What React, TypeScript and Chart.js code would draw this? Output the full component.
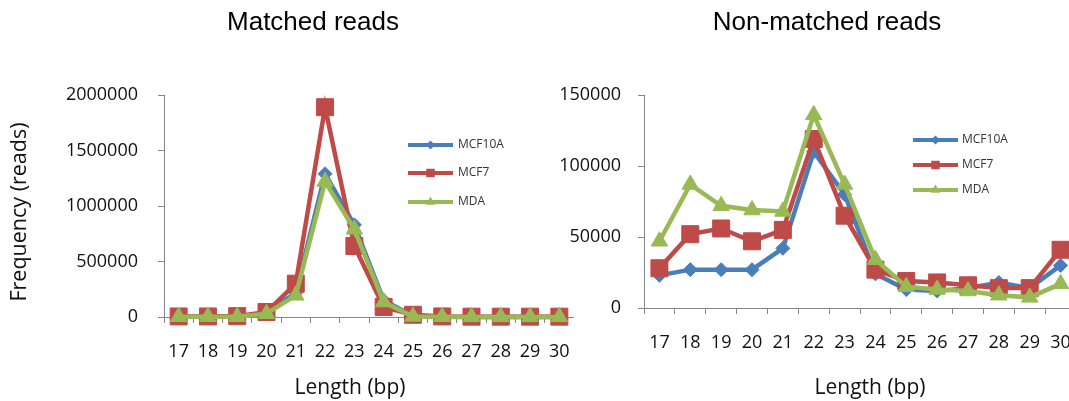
import React, { useEffect, useRef } from 'react';
import { Chart, registerables } from 'chart.js';

Chart.register(...registerables);

// ---- data ----
const lengths = ['17', '18', '19', '20', '21', '22', '23', '24', '25', '26', '27', '28', '29', '30'];
const seriesNames = ['MCF10A', 'MCF7', 'MDA'];

const matchedMCF10A = [2000, 2000, 3000, 35000, 220000, 1290000, 830000, 150000, 10000, 2000, 1000, 1000, 1000, 1000];
const matchedMCF7 = [5000, 5000, 8000, 45000, 300000, 1890000, 640000, 90000, 20000, 5000, 3000, 3000, 3000, 3000];
const matchedMDA = [2000, 2000, 3000, 30000, 195000, 1220000, 790000, 135000, 5000, 2000, 1000, 1000, 1000, 1000];

const nonMatchedMCF10A = [23000, 27000, 27000, 27000, 42000, 110000, 80000, 24000, 13000, 12000, 14000, 18000, 14000, 30000];
const nonMatchedMCF7 = [28000, 52000, 56000, 47000, 55000, 119000, 65000, 27000, 19000, 18000, 16000, 14000, 14000, 41000];
const nonMatchedMDA = [47000, 87000, 72000, 69000, 68000, 136000, 87000, 34000, 15000, 13000, 12000, 9000, 7500, 17000];

const matchedYTicks = [0, 500000, 1000000, 1500000, 2000000];
const nonMatchedYTicks = [0, 50000, 100000, 150000];

// ---- styles ----
const COLORS = ['#4A7EBB', '#BE4B48', '#98B954'];
const POINT_STYLES = ['rectRot', 'rect', 'triangle'];
const POINT_RADII = [7, 12, 9.5];
const LEGEND_RADII = [4.5, 6, 5.5];
const AXIS_COLOR = '#868686';
const TEXT_COLOR = '#111111';
const TICK_FONT = { family: 'Open Sans', size: 18 };
const TITLE_FONT = '26px "Liberation Sans"';
const AXIS_TITLE_FONT = '21px "Open Sans"';

function shapePath(ctx: CanvasRenderingContext2D, style: string, x: number, y: number, r: number) {
  ctx.beginPath();
  if (style === 'rect') {
    const s = Math.SQRT1_2 * r;
    ctx.rect(x - s, y - s, 2 * s, 2 * s);
  } else if (style === 'rectRot') {
    ctx.moveTo(x, y - r);
    ctx.lineTo(x + r, y);
    ctx.lineTo(x, y + r);
    ctx.lineTo(x - r, y);
    ctx.closePath();
  } else {
    for (let k = 0; k < 3; k++) {
      const a = (k * 2 * Math.PI) / 3;
      const px = x + Math.sin(a) * r;
      const py = y - Math.cos(a) * r;
      if (k === 0) ctx.moveTo(px, py);
      else ctx.lineTo(px, py);
    }
    ctx.closePath();
  }
}

const lineLegendPlugin = {
  id: 'lineLegend',
  afterDraw(chart: any, _args: any, opts: any) {
    if (!opts || !opts.ys) return;
    const ctx: CanvasRenderingContext2D = chart.ctx;
    chart.data.datasets.forEach((ds: any, i: number) => {
      const y = opts.ys[i];
      ctx.save();
      ctx.strokeStyle = ds.borderColor;
      ctx.lineWidth = 4;
      ctx.beginPath();
      ctx.moveTo(opts.x1, y);
      ctx.lineTo(opts.x2, y);
      ctx.stroke();
      ctx.fillStyle = ds.borderColor;
      shapePath(ctx, POINT_STYLES[i], (opts.x1 + opts.x2) / 2, y, LEGEND_RADII[i]);
      ctx.fill();
      ctx.font = '12px "Open Sans"';
      ctx.fillStyle = '#333333';
      ctx.textAlign = 'left';
      ctx.textBaseline = 'middle';
      ctx.fillText(ds.label, opts.textX, y);
      ctx.restore();
    });
  },
};

const extraTextPlugin = {
  id: 'extraText',
  afterDraw(chart: any, _args: any, opts: any) {
    if (!opts || !opts.items) return;
    const ctx: CanvasRenderingContext2D = chart.ctx;
    opts.items.forEach((it: any) => {
      ctx.save();
      ctx.translate(it.x, it.y);
      ctx.rotate(it.rotation || 0);
      ctx.font = it.font;
      ctx.fillStyle = it.color || TEXT_COLOR;
      ctx.textAlign = 'center';
      ctx.textBaseline = 'middle';
      ctx.fillText(it.text, 0, 0);
      ctx.restore();
    });
  },
};

function makeDatasets(values: number[][]) {
  return values.map((v, i) => ({
    label: seriesNames[i],
    data: v,
    borderColor: COLORS[i],
    backgroundColor: COLORS[i],
    pointBackgroundColor: COLORS[i],
    pointBorderColor: COLORS[i],
    pointBorderWidth: 1,
    pointStyle: POINT_STYLES[i],
    pointRadius: POINT_RADII[i],
    borderWidth: 4.5,
    tension: 0,
    clip: false,
    order: 3 - i,
  }));
}

function makeConfig(opts: any) {
  return {
    type: 'line',
    data: { labels: lengths, datasets: makeDatasets(opts.values) },
    plugins: [lineLegendPlugin, extraTextPlugin],
    options: {
      responsive: false,
      animation: false,
      events: [],
      layout: { autoPadding: false, padding: { left: 0, right: 0, top: 95, bottom: 0 } },
      plugins: {
        legend: { display: false },
        tooltip: { enabled: false },
        title: { display: false },
        lineLegend: opts.legend,
        extraText: { items: opts.texts },
      },
      scales: {
        x: {
          type: 'category',
          offset: true,
          afterFit: (s: any) => {
            s.height = opts.xHeight;
            s.paddingLeft = 0;
            s.paddingRight = 0;
          },
          grid: {
            display: true,
            drawOnChartArea: false,
            drawTicks: true,
            tickLength: 6,
            color: AXIS_COLOR,
            lineWidth: 1,
            offset: true,
          },
          border: { display: true, color: AXIS_COLOR, width: 1 },
          ticks: {
            autoSkip: false,
            maxRotation: 0,
            minRotation: 0,
            padding: 18,
            color: TEXT_COLOR,
            font: TICK_FONT,
          },
        },
        y: {
          type: 'linear',
          min: 0,
          max: opts.yMax,
          afterFit: (s: any) => {
            s.width = opts.yWidth;
            s.paddingTop = 0;
            s.paddingBottom = 0;
          },
          afterBuildTicks: (s: any) => {
            s.ticks = opts.yTicks.map((v: number) => ({ value: v }));
          },
          grid: {
            display: true,
            drawOnChartArea: false,
            drawTicks: true,
            tickLength: 6,
            color: AXIS_COLOR,
            lineWidth: 1,
          },
          border: { display: true, color: AXIS_COLOR, width: 1 },
          ticks: {
            padding: opts.yPad,
            color: TEXT_COLOR,
            font: TICK_FONT,
            callback: (v: any) => String(v),
          },
        },
      },
    },
  };
}

function LineChart({ config, left, width, height }: { config: any; left: number; width: number; height: number }) {
  const ref = useRef<HTMLCanvasElement | null>(null);
  useEffect(() => {
    if (!ref.current) return;
    const chart = new Chart(ref.current, config);
    return () => chart.destroy();
  }, [config]);
  return (
    <canvas
      ref={ref}
      width={width}
      height={height}
      style={{ position: 'absolute', left, top: 0, width, height }}
    />
  );
}

const leftConfig = makeConfig({
  values: [matchedMCF10A, matchedMCF7, matchedMDA],
  yWidth: 164,
  xHeight: 84,
  yMax: 2000000,
  yTicks: matchedYTicks,
  yPad: 20,
  legend: { x1: 408, x2: 453, textX: 458, ys: [145, 173, 202] },
  texts: [
    { text: 'Matched reads', x: 313, y: 23, font: TITLE_FONT, color: '#000000' },
    { text: 'Frequency (reads)', x: 20, y: 212, rotation: -Math.PI / 2, font: '21.5px "Open Sans"' },
    { text: 'Length (bp)', x: 350, y: 388, font: AXIS_TITLE_FONT },
  ],
});

const rightConfig = makeConfig({
  values: [nonMatchedMCF10A, nonMatchedMCF7, nonMatchedMDA],
  yWidth: 104,
  xHeight: 93,
  yMax: 150000,
  yTicks: nonMatchedYTicks,
  yPad: 17,
  legend: { x1: 373, x2: 418, textX: 422, ys: [140, 165, 190] },
  texts: [
    { text: 'Non-matched reads', x: 287, y: 23, font: TITLE_FONT, color: '#000000' },
    { text: 'Length (bp)', x: 330, y: 388, font: AXIS_TITLE_FONT },
  ],
});

export default function App() {
  return (
    <div
      style={{
        position: 'absolute',
        left: 0,
        top: 0,
        width: 1069,
        height: 401,
        overflow: 'hidden',
        background: '#ffffff',
      }}
    >
      <LineChart config={leftConfig} left={0} width={574} height={401} />
      <LineChart config={rightConfig} left={540} width={536} height={401} />
    </div>
  );
}
